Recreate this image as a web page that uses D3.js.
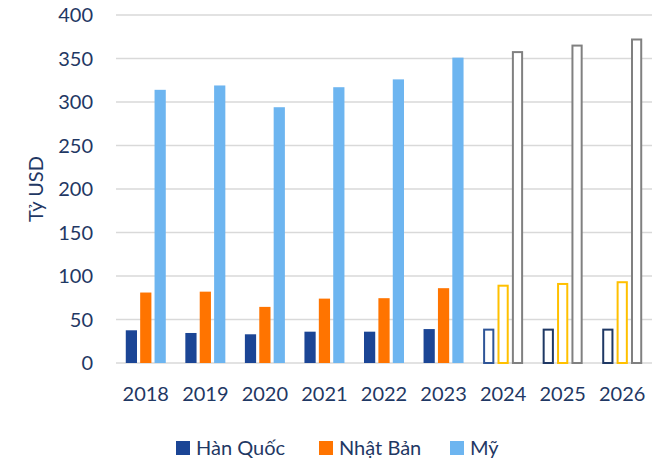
<!DOCTYPE html>
<html>
<head>
<meta charset="utf-8">
<script src="https://cdn.jsdelivr.net/npm/d3@7"></script>
<style>
  body { margin: 0; background: #fff; }
  text { font-family: Lato, "Open Sans", sans-serif; fill: #1f3864; }
  .grid line { stroke: #d9d9d9; stroke-width: 1.5px; }
</style>
</head>
<body>
<svg></svg>
<script>
// data
var years = ["2018", "2019", "2020", "2021", "2022", "2023", "2024", "2025", "2026"];
var forecastYears = ["2024", "2025", "2026"];
var korea = [37.6, 34.5, 33, 36, 36, 39, 39.5, 39.5, 39.5];
var japan = [81, 82, 64.5, 74, 74.5, 86, 90, 92, 94];
var usa = [314, 319, 294, 317, 326, 351, 358.5, 366, 373];
var seriesNames = ["Hàn Quốc", "Nhật Bản", "Mỹ"];
var yTicks = [0, 50, 100, 150, 200, 250, 300, 350, 400];

var W = 669, H = 461;
var margin = {top: 15, right: 17, bottom: 98, left: 116};

var fillColors = ["#1b4595", "#ff7400", "#6db5f0"];
var outlineColors = ["#1f3864", "#ffc000", "#808080"];

var svg = d3.select("svg").attr("width", W).attr("height", H);

var x = d3.scaleBand().domain(years).range([margin.left, W - margin.right]);
var y = d3.scaleLinear().domain([0, 400]).range([H - margin.bottom, margin.top]);
var inner = d3.scaleBand().domain([0, 1, 2]).range([-20, 20]).paddingInner(0.22);

// grid
svg.append("g").attr("class", "grid")
  .selectAll("line").data(yTicks).enter().append("line")
  .attr("x1", margin.left).attr("x2", W - margin.right)
  .attr("y1", function(d){ return y(d); }).attr("y2", function(d){ return y(d); });

// y labels
svg.append("g").selectAll("text").data(yTicks).enter().append("text")
  .attr("x", 93).attr("y", function(d){ return y(d); })
  .attr("dy", "0.36em").attr("text-anchor", "end")
  .style("font-size", "20px")
  .text(function(d){ return d; });

// x labels
svg.append("g").selectAll("text").data(years).enter().append("text")
  .attr("x", function(d){ return x(d) + x.bandwidth()/2; })
  .attr("y", 394).attr("dy", "0.36em").attr("text-anchor", "middle")
  .style("font-size", "20px")
  .text(function(d){ return d; });

// y title
svg.append("text")
  .attr("transform", "translate(36,189) rotate(-90)")
  .attr("text-anchor", "middle").attr("dy", "0.36em")
  .style("font-size", "20px")
  .text("Tỷ USD");

var series = [korea, japan, usa];
series.forEach(function(vals, si) {
  svg.append("g").selectAll("rect").data(years).enter().append("rect")
    .each(function(yr, i) {
      var fc = forecastYears.indexOf(yr) >= 0;
      var cx = x(yr) + x.bandwidth()/2 + inner(si);
      var r = d3.select(this);
      if (!fc) {
        r.attr("x", cx).attr("width", inner.bandwidth())
          .attr("y", y(vals[i])).attr("height", y(0) - y(vals[i]))
          .attr("fill", fillColors[si]);
      } else {
        var stroke = outlineColors[si];
        if (si === 0 && yr === forecastYears[0]) stroke = "#2f5597";
        r.attr("x", cx + 1).attr("width", inner.bandwidth() - 2)
          .attr("y", y(vals[i]) + 1).attr("height", y(0) - y(vals[i]) - 1)
          .attr("fill", "#fff").attr("stroke", stroke).attr("stroke-width", 2);
      }
    });
});

// legend
var legendX = [176, 319, 450];
var lg = svg.append("g");
seriesNames.forEach(function(name, i) {
  lg.append("rect").attr("x", legendX[i]).attr("y", 441)
    .attr("width", 14).attr("height", 14).attr("fill", fillColors[i]);
  lg.append("text").attr("x", legendX[i] + 20).attr("y", 448)
    .attr("dy", "0.36em").style("font-size", "20px").text(name);
});
</script>
</body>
</html>
